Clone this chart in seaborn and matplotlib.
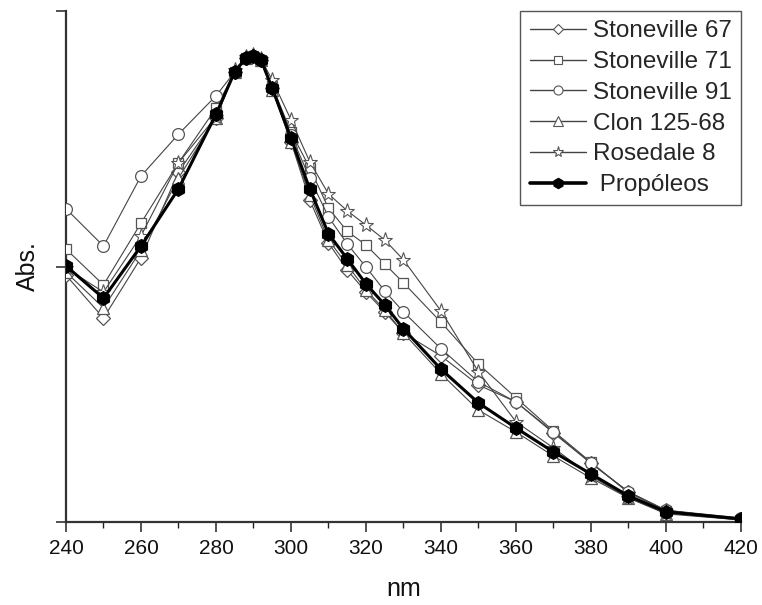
import matplotlib
matplotlib.use("Agg")
import matplotlib.pyplot as plt
import seaborn as sns
import pandas as pd
from matplotlib.lines import Line2D
from matplotlib.ticker import MultipleLocator

sns.set_theme(style="ticks")
plt.rcParams['font.family'] = ['Liberation Sans', 'DejaVu Sans']

wavelength = [240, 250, 260, 270, 280, 285, 288, 290, 292, 295, 300, 305, 310,
              315, 320, 325, 330, 340, 350, 360, 370, 380, 390, 400, 420]

stoneville_67 = [0.483, 0.399, 0.517, 0.685, 0.791, 0.881, 0.908, 0.912, 0.904, 0.849,
                 0.744, 0.630, 0.546, 0.493, 0.450, 0.411, 0.370, 0.325, 0.268, 0.235,
                 0.174, 0.115, 0.059, 0.023, 0.006]
stoneville_71 = [0.534, 0.464, 0.585, 0.703, 0.810, 0.881, 0.908, 0.912, 0.904, 0.853,
                 0.763, 0.693, 0.614, 0.569, 0.542, 0.505, 0.468, 0.391, 0.309, 0.243,
                 0.178, 0.117, 0.057, 0.022, 0.006]
stoneville_91 = [0.613, 0.540, 0.677, 0.759, 0.834, 0.881, 0.908, 0.912, 0.904, 0.851,
                 0.757, 0.673, 0.597, 0.544, 0.499, 0.452, 0.411, 0.339, 0.274, 0.235,
                 0.176, 0.115, 0.059, 0.023, 0.008]
clon_125_68 = [0.489, 0.419, 0.532, 0.673, 0.791, 0.881, 0.908, 0.912, 0.904, 0.845,
               0.744, 0.640, 0.552, 0.503, 0.454, 0.415, 0.370, 0.290, 0.219, 0.176,
               0.129, 0.086, 0.047, 0.016, 0.004]
rosedale_8 = [0.497, 0.450, 0.560, 0.703, 0.793, 0.885, 0.910, 0.914, 0.906, 0.865,
              0.787, 0.705, 0.642, 0.609, 0.581, 0.552, 0.513, 0.413, 0.294, 0.196,
              0.145, 0.090, 0.047, 0.018, 0.004]
propoleos = [0.501, 0.438, 0.540, 0.652, 0.798, 0.881, 0.908, 0.912, 0.904, 0.849,
             0.751, 0.652, 0.564, 0.515, 0.466, 0.425, 0.378, 0.299, 0.233, 0.184,
             0.137, 0.094, 0.051, 0.020, 0.006]

series_names = ["Stoneville 67", "Stoneville 71", "Stoneville 91",
                "Clon 125-68", "Rosedale 8", " Propóleos"]
series_values = [stoneville_67, stoneville_71, stoneville_91,
                 clon_125_68, rosedale_8, propoleos]
x_ticks = [240, 260, 280, 300, 320, 340, 360, 380, 400, 420]

styles = [
    dict(marker="D", ms=7.0, color="#444444", lw=0.8, mfc="white", mec="#555555", mew=0.9),
    dict(marker="s", ms=7.5, color="#444444", lw=0.8, mfc="white", mec="#555555", mew=0.9),
    dict(marker="o", ms=8.5, color="#444444", lw=0.8, mfc="white", mec="#555555", mew=0.9),
    dict(marker="^", ms=8.5, color="#444444", lw=0.8, mfc="white", mec="#555555", mew=0.9),
    dict(marker="*", ms=11, color="#444444", lw=0.8, mfc="white", mec="#555555", mew=0.8),
    dict(marker="h", ms=10, color="black", lw=2.2, mfc="black", mec="black", mew=0.8),
]
legend_ms = [5.5, 5.5, 6.5, 7, 8, 7.5]

fig = plt.figure(figsize=(7.62, 6.05), dpi=100)
ax = fig.add_axes([66 / 762, 1 - 522 / 605, (741 - 66) / 762, (522 - 11) / 605])

handles = []
for name, vals, st, lms in zip(series_names, series_values, styles, legend_ms):
    df = pd.DataFrame({"nm": wavelength, "abs": vals})
    sns.lineplot(data=df, x="nm", y="abs", ax=ax, color=st["color"], linewidth=st["lw"],
                 marker=st["marker"], markersize=st["ms"], markerfacecolor=st["mfc"],
                 markeredgecolor=st["mec"], markeredgewidth=st["mew"],
                 zorder=3 if name.strip() != "Propóleos" else 4)
    handles.append(Line2D([], [], color=st["color"], lw=st["lw"] + (0.4 if st["lw"] > 2 else 0.2),
                          marker=st["marker"], markersize=lms, markerfacecolor=st["mfc"],
                          markeredgecolor=st["mec"], markeredgewidth=0.8, label=name))

ax.set_xlim(240, 420)
ax.set_ylim(0, 1.0)
ax.set_xticks(x_ticks)
ax.xaxis.set_minor_locator(MultipleLocator(10))
ax.set_yticks([0, 0.5, 1.0])
ax.set_yticklabels([])
ax.tick_params(axis="both", which="major", direction="out", length=7, width=1.1, colors="#222222",
               labelsize=15, labelcolor="#111111")
ax.tick_params(axis="x", which="minor", direction="out", length=4, width=1.0, colors="#222222")
ax.tick_params(axis="x", pad=5)
for s in ["top", "right"]:
    ax.spines[s].set_visible(False)
for s in ["left", "bottom"]:
    ax.spines[s].set_linewidth(1.6)
    ax.spines[s].set_color("#333333")

ax.set_xlabel("nm", fontsize=18, labelpad=14, color="#111111")
ax.set_ylabel("Abs.", fontsize=18, labelpad=8, color="#111111")

leg = ax.legend(handles=handles, loc="upper right", bbox_to_anchor=(1.0, 1.0),
                borderaxespad=0.0, fontsize=17.5, frameon=True, fancybox=False,
                handlelength=2.3, handletextpad=0.3, labelspacing=0.36,
                borderpad=0.38, framealpha=1.0)
leg.get_frame().set_edgecolor("#555555")
leg.get_frame().set_linewidth(1.0)

fig.savefig("out.png", dpi=100)
